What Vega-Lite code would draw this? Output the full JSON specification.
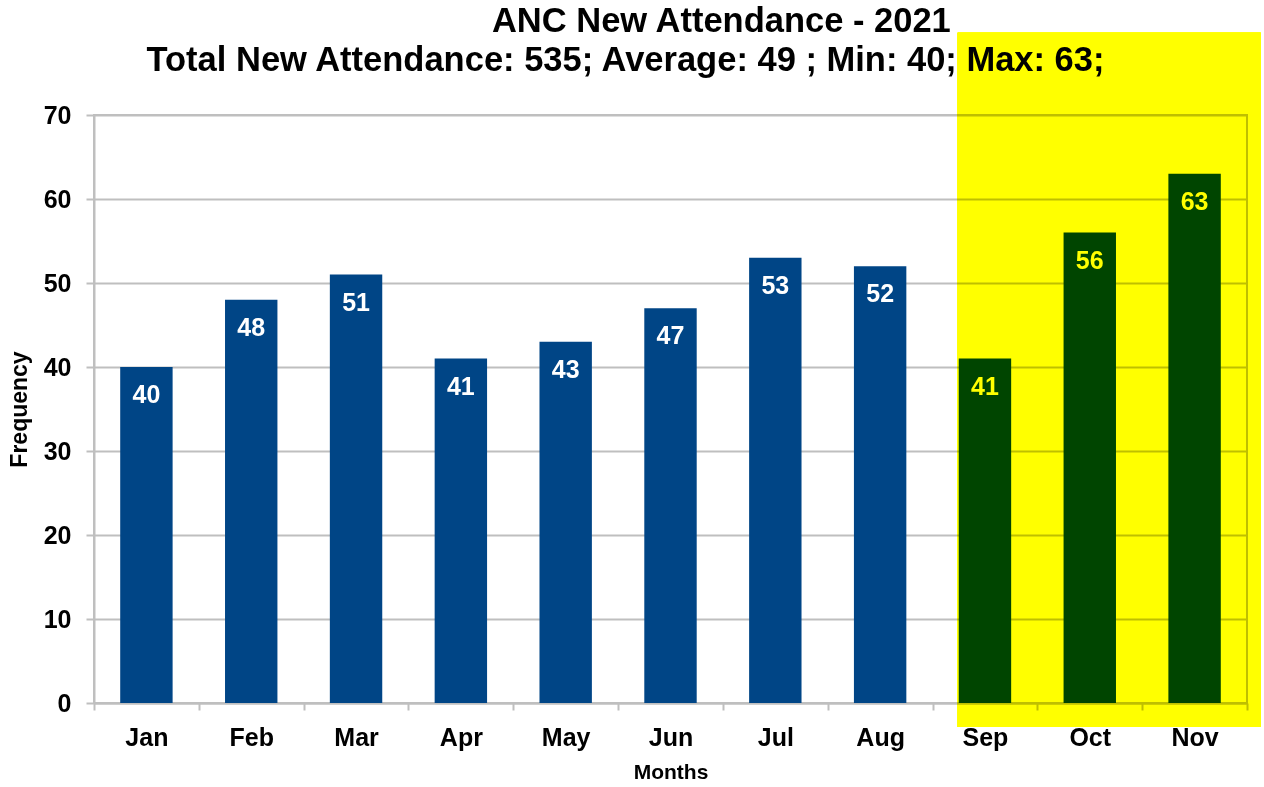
{
  "$schema": "https://vega.github.io/schema/vega-lite/v6.json",
  "autosize": "none",
  "width": 1153,
  "height": 588,
  "padding": {"left": 94, "top": 115, "right": 17, "bottom": 84},
  "background": "white",
  "title": {
    "text": ["\u200b\u00a0\u00a0\u00a0\u00a0\u00a0\u00a0\u00a0\u00a0\u00a0\u00a0\u00a0\u00a0\u00a0\u00a0\u00a0\u00a0\u00a0\u00a0\u00a0\u00a0ANC New Attendance - 2021", "Total New Attendance: 535; Average: 49 ; Min: 40; Max: 63;"],
    "anchor": "middle",
    "frame": "group",
    "dx": -45,
    "offset": -46,
    "font": "Liberation Sans",
    "fontSize": 34.5,
    "fontWeight": "bold",
    "color": "black",
    "lineHeight": 39
  },
  "config": {
    "font": "Liberation Sans",
    "view": {"stroke": "#BFBFBF", "strokeWidth": 2},
    "axis": {
      "domainColor": "#BFBFBF",
      "domainWidth": 2,
      "tickColor": "#BFBFBF",
      "tickWidth": 2,
      "gridColor": "#BFBFBF",
      "gridWidth": 2,
      "labelFont": "Liberation Sans",
      "labelFontWeight": "bold",
      "labelColor": "black",
      "titleFont": "Liberation Sans",
      "titleFontWeight": "bold",
      "titleColor": "black"
    }
  },
  "data": {
    "values": [
      {"month": "Jan", "count": 40},
      {"month": "Feb", "count": 48},
      {"month": "Mar", "count": 51},
      {"month": "Apr", "count": 41},
      {"month": "May", "count": 43},
      {"month": "Jun", "count": 47},
      {"month": "Jul", "count": 53},
      {"month": "Aug", "count": 52},
      {"month": "Sep", "count": 41},
      {"month": "Oct", "count": 56},
      {"month": "Nov", "count": 63}
    ]
  },
  "layer": [
    {
      "encoding": {
        "x": {
          "field": "month", "type": "nominal", "sort": null,
          "scale": {"paddingInner": 0, "paddingOuter": 0},
          "axis": {
            "title": "Months", "titleFontSize": 21, "titlePadding": 11,
            "labelFontSize": 25, "labelPadding": 15, "labelAngle": 0,
            "tickSize": 7, "tickBand": "extent", "grid": false
          }
        },
        "y": {
          "field": "count", "type": "quantitative",
          "scale": {"domain": [0, 70], "nice": false},
          "axis": {
            "title": "Frequency", "titleFontSize": 23, "titlePadding": 12,
            "labelFontSize": 25, "labelPadding": 15, "tickSize": 8,
            "values": [0, 10, 20, 30, 40, 50, 60, 70], "grid": true
          }
        }
      },
      "layer": [
        {"mark": {"type": "bar", "width": {"band": 0.5}, "color": "#004586"}},
        {
          "mark": {"type": "text", "color": "white", "fontSize": 25, "fontWeight": "bold", "baseline": "middle", "dy": 28},
          "encoding": {"text": {"field": "count", "type": "quantitative"}}
        }
      ]
    },
    {
      "mark": {"type": "rect", "color": "#FFFF00", "blend": "multiply", "clip": false},
      "encoding": {
        "x": {"datum": 8.24, "type": "quantitative", "scale": {"domain": [0, 11], "nice": false, "zero": false}, "axis": null},
        "x2": {"datum": 11.13},
        "y": {"datum": -2.85, "type": "quantitative", "scale": {"domain": [0, 70], "nice": false}, "axis": null},
        "y2": {"datum": 79.8}
      }
    }
  ],
  "resolve": {"scale": {"x": "independent", "y": "independent"}}
}
